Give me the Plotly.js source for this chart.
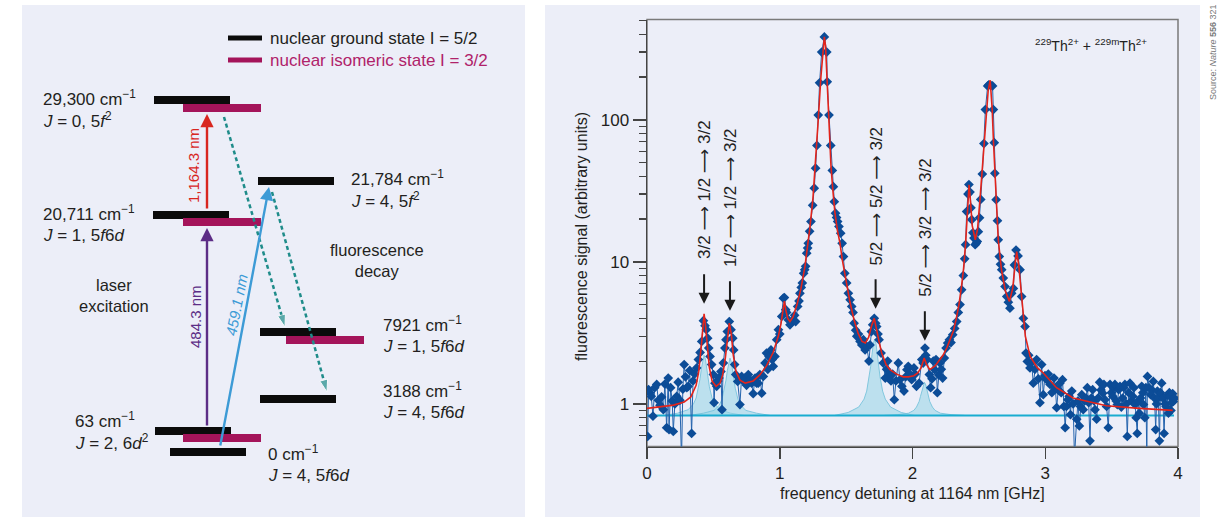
<!DOCTYPE html>
<html><head><meta charset="utf-8">
<script src="https://cdn.plot.ly/plotly-3.0.1.min.js"></script>
<style>html,body{margin:0;padding:0;background:#fff}#chart{width:1223px;height:517px}</style>
</head><body><div id="chart"></div>
<script>
// ---------------- right panel data ----------------
const freq = [0.005,0.012,0.022,0.032,0.045,0.058,0.073,0.085,0.098,0.11,0.123,0.135,0.148,0.16,0.166,0.178,0.19,0.198,0.21,0.224,0.235,0.248,0.26,0.27,0.28,0.29,0.30,0.31,0.322,0.336,0.347,0.358,0.374,0.387,0.40,0.412,0.425,0.437,0.447,0.457,0.465,0.475,0.487,0.50,0.505,0.512,0.525,0.535,0.542,0.557,0.565,0.575,0.587,0.595,0.605,0.62,0.633,0.646,0.653,0.66,0.668,0.683,0.70,0.713,0.725,0.738,0.75,0.763,0.775,0.788,0.80,0.814,0.826,0.838,0.85,0.864,0.876,0.889,0.90,0.91,0.919,0.934,0.943,0.951,0.964,0.977,0.99,1.0,1.015,1.027,
1.035,1.045,1.052,1.065,1.077,1.09,1.10,1.112,1.12,1.135,1.145,1.152,1.162,1.17,1.18,1.188,1.195,1.203,1.21,1.215,1.225,1.235,1.248,1.26,1.27,1.28,1.29,1.30,1.316,1.336,1.354,1.358,1.371,1.384,1.396,1.404,1.411,1.42,1.428,1.436,1.446,1.459,1.47,1.48,1.49,1.504,1.517,1.53,1.542,1.552,1.56,1.572,1.58,1.593,1.605,1.618,1.63,1.643,1.655,1.672,1.68,1.69,1.70,1.712,1.722,1.73,1.74,1.748,1.763,1.78,1.795,1.805,1.813,1.825,1.838,1.85,1.863,1.875,1.893,
1.905,1.92,1.936,1.948,1.958,1.968,1.98,1.994,2.011,2.02,2.03,2.05,2.07,2.08,2.094,2.10,2.11,2.127,2.137,2.147,2.157,2.167,2.177,2.187,2.197,2.207,2.217,2.227,2.24,2.253,2.265,2.278,2.29,2.303,2.318,2.333,2.345,2.358,2.37,2.383,2.393,
2.40,2.408,2.418,2.425,2.433,2.44,2.446,2.455,2.463,2.472,2.48,2.488,2.496,2.505,2.514,2.526,2.538,2.549,2.566,2.575,2.59,2.603,2.609,2.616,2.62,2.63,2.64,2.646,2.654,2.663,2.672,2.684,2.697,2.71,2.722,2.734,2.747,2.76,2.768,2.78,2.795,2.81,2.822,2.835,2.848,2.855,2.865,2.875,2.885,2.897,2.91,2.922,2.935,2.948,2.96,2.973,2.985,2.998,
3.01,3.023,3.036,3.05,3.066,3.076,3.086,3.098,3.11,3.12,3.13,3.14,3.15,3.16,3.17,3.18,3.19,3.2,3.21,3.22,3.237,3.247,3.257,3.265,3.275,3.286,3.297,3.307,3.317,3.327,3.337,3.347,3.357,3.367,3.375,3.387,3.398,3.41,3.42,3.433,3.442,3.45,3.462,3.475,3.488,3.498,3.508,3.516,3.525,3.535,3.543,3.553,3.563,3.573,3.583,3.592,3.6,3.61,3.618,3.628,3.638,3.648,3.659,3.668,3.676,3.685,3.693,3.70,3.709,3.718,3.727,3.735,3.74,3.75,3.758,3.765,3.77,3.782,3.794,3.804,3.814,3.823,3.832,3.838,3.845,3.852,3.86,3.868,3.877,3.886,3.895,3.903,3.91,3.918,3.928,3.935,3.94,3.947,3.953,3.96,3.965,3.972];
const signal = [0.59,1.26,1.2,1.13,0.82,1.30,1.37,1.06,0.98,1.12,0.91,1.38,0.68,1.52,0.66,1.3,1.05,0.64,1.0,1.13,1.42,1.06,0.40,1.27,1.89,1.55,1.3,1.33,1.72,0.62,1.45,1.62,1.79,2.05,2.3,2.75,3.85,3.55,3.33,2.9,2.47,2.16,1.89,1.61,1.02,1.40,1.33,1.45,1.52,1.69,0.91,1.94,2.47,2.83,3.23,3.8,3.33,2.9,2.4,1.89,1.61,1.44,0.99,1.56,1.45,1.52,1.35,1.61,1.48,1.40,1.18,1.52,1.40,1.40,1.61,1.19,1.56,1.94,2.28,1.75,2.16,2.4,2.05,1.84,2.16,2.83,3.33,3.1,4.13,5.55,
5.6,4.6,4.4,3.9,3.6,3.75,3.9,4.2,3.8,4.85,5.3,6.0,6.6,7.1,8.3,8.8,9.3,11.5,12.5,13.5,16.4,19.2,25,33,45.6,66,108,182,300,383,300,185,108,66,44,33.8,26.5,22,20.5,19.2,17.7,15.9,13.5,10.9,8.3,7.1,6.0,5.4,4.85,4.4,3.7,3.3,2.99,3.1,2.75,2.6,2.83,2.4,2.54,2.0,2.6,3.23,3.6,4.0,3.7,3.5,3.1,2.83,2.28,1.94,1.52,1.75,2.0,1.62,1.45,1.62,1.07,1.45,1.94,
1.48,1.33,1.23,1.55,1.74,1.84,1.62,1.48,1.79,1.62,1.33,1.40,2.05,1.94,2.47,2.2,2.05,1.61,1.30,1.5,2.0,1.74,2.05,1.20,1.6,1.94,1.75,1.52,2.1,2.47,2.68,2.83,2.7,3.07,3.4,3.8,4.4,5.0,6.35,8.0,10.5,
13.2,22.6,30,35,31,24,19.8,16,14.7,13.2,13.5,13.9,16.3,20.4,27.5,41.5,68,118,173,176,175,173,118,69,42,27.4,19.5,14.3,10.9,9.6,8.8,7.68,6.7,5.7,5.2,4.72,6.0,6.5,9.5,12.1,11.0,8.8,5.7,4.0,3.5,2.28,1.99,2.2,1.79,1.95,1.40,1.75,2.05,1.5,1.02,1.89,1.16,1.58,
1.48,1.62,1.37,1.2,1.52,1.3,0.94,1.25,1.40,1.2,1.48,0.96,0.68,0.96,1.07,1.13,0.84,1.23,1.0,0.42,0.78,1.05,0.70,0.96,1.16,0.91,1.05,1.10,1.30,1.02,0.55,1.1,1.26,1.05,0.91,0.78,1.1,1.42,1.25,1.19,1.37,1.07,0.96,0.68,1.37,1.2,1.13,1.3,1.37,1.05,0.99,1.26,1.33,0.95,1.10,1.3,1.37,1.0,0.59,1.2,1.40,1.05,1.13,1.3,0.99,0.8,0.62,1.05,0.86,1.1,1.33,1.2,0.99,0.80,1.3,0.42,1.56,1.3,1.16,1.25,1.44,1.1,0.66,1.0,1.23,1.1,0.55,1.2,1.40,1.1,0.62,1.0,0.96,1.15,0.86,1.2,1.13,0.9,1.02,1.18,1.04,1.1];

const fitFreq = [0,0.1,0.2,0.28,0.33,0.37,0.39,0.41,0.425,0.43,0.44,0.455,0.47,0.49,0.52,0.55,0.57,0.59,0.605,0.62,0.635,0.65,0.67,0.7,0.74,0.8,0.85,0.9,0.95,0.99,1.01,1.025,1.035,1.045,1.06,1.077,1.1,1.13,1.16,1.19,1.21,1.228,1.25,1.266,1.28,1.29,1.31,1.325,1.336,1.345,1.355,1.366,1.376,1.386,1.40,1.416,1.435,1.454,1.47,1.49,1.51,1.53,1.56,1.59,1.62,1.645,1.67,1.69,1.712,1.73,1.75,1.768,1.80,1.83,1.88,1.93,1.97,2.01,2.04,2.065,2.088,2.105,2.13,2.17,2.2,2.23,2.26,2.29,2.31,2.33,2.35,2.37,2.385,2.40,2.41,2.42,2.426,2.435,2.45,2.473,2.49,2.51,2.53,2.55,2.57,2.585,2.6,2.61,2.62,2.63,2.646,2.67,2.70,2.73,2.755,2.775,2.785,2.80,2.82,2.85,2.886,2.94,2.985,3.04,3.085,3.21,3.46,3.71,3.96];
const fitSignal = [0.93,0.95,0.98,1.03,1.12,1.35,1.7,2.6,4.0,4.3,3.6,2.4,1.8,1.45,1.33,1.4,1.6,2.1,2.9,3.7,3.1,2.2,1.7,1.47,1.40,1.45,1.6,1.85,2.3,3.0,3.7,4.6,5.3,4.6,4.0,3.8,4.1,5.0,6.5,9.3,12.5,17.7,28,44,68,100,200,320,383,330,200,110,70,47,32,22,16.5,13.5,10.5,8.3,6.5,5.15,3.9,3.15,2.75,2.68,2.95,3.5,4.0,3.4,2.7,2.28,1.9,1.74,1.62,1.55,1.55,1.58,1.65,1.8,2.1,1.9,1.74,1.85,2.0,2.2,2.5,2.9,3.3,4.0,5.0,6.8,9.0,13.5,20,30,34.8,28,18,14.3,17,28.8,50,95,160,190,120,70,42,27.4,14.3,8.8,6.2,5.27,6.5,10,11.8,9.5,5.7,3.0,2.16,1.8,1.65,1.45,1.3,1.1,0.97,0.93,0.90];

const baselineFreq = [0, 3.97];
const baselineSignal = [0.83, 0.83];

const compCenter = [0.43, 0.625, 1.715, 2.09];
const compOffset = [-0.3,-0.2,-0.12,-0.08,-0.06,-0.04,-0.03,-0.02,-0.01,0,0.01,0.02,0.03,0.04,0.06,0.08,0.12,0.2,0.3];
const compSignal = [
  [0.83,0.86,0.91,1.0,1.10,1.32,1.51,1.78,2.06,2.2,2.06,1.78,1.51,1.32,1.10,1.0,0.91,0.86,0.83],
  [0.83,0.86,0.90,0.98,1.08,1.29,1.47,1.71,1.97,2.1,1.97,1.71,1.47,1.29,1.08,0.98,0.90,0.86,0.83],
  [0.83,0.87,0.95,1.08,1.23,1.56,1.84,2.23,2.65,2.85,2.65,2.23,1.84,1.56,1.23,1.08,0.95,0.87,0.83],
  [0.83,0.84,0.86,0.90,0.95,1.04,1.13,1.24,1.36,1.42,1.36,1.24,1.13,1.04,0.95,0.90,0.86,0.84,0.83]
];

const ARROW = "<span style='font-family:DejaVu Sans'>⟶</span>";
const transitionLabels = ['3/2 '+ARROW+' 1/2 '+ARROW+' 3/2','1/2 '+ARROW+' 1/2 '+ARROW+' 3/2','5/2 '+ARROW+' 5/2 '+ARROW+' 3/2','5/2 '+ARROW+' 3/2 '+ARROW+' 3/2'];
const transitionFreq = [0.43, 0.625, 1.722, 2.093];
const xTickVals = [0,1,2,3,4];
const yTickVals = [1,10,100];
const yMinorVals = [0.6,0.7,0.8,0.9,2,3,4,5,6,7,8,9,20,30,40,50,60,70,80,90,200,300,400,500];

// ---------------- left panel (level scheme) ----------------
const levelEnergy = ['29,300','20,711','21,784','7921','3188','63','0'];
const levelConfig = ['<i>J</i> = 0, 5<i>f</i><sup>2</sup>','<i>J</i> = 1, 5<i>f</i>6<i>d</i>','<i>J</i> = 4, 5<i>f</i><sup>2</sup>','<i>J</i> = 1, 5<i>f</i>6<i>d</i>','<i>J</i> = 4, 5<i>f</i>6<i>d</i>','<i>J</i> = 2, 6<i>d</i><sup>2</sup>','<i>J</i> = 4, 5<i>f</i>6<i>d</i>'];
const hasIsomer = [true,true,false,true,false,true,false];
const laserLabels = ['1,164.3 nm','484.3 nm','459.1 nm'];

// schematic geometry (diagram units)
const gX0 = [154,153,258,260,260,155,170], gY = [100,215,181,332,399,431,452];
const iX0 = [183,183,null,286,null,183,null], iY = [108,222,null,340,null,438,null];
const labX = [41,41,349,381,381,73,266], labY = [98,213,178,324,390,420,453];

const C_BLACK='#0b0b0b', C_MAG='#a4145a', C_RED='#d8261f', C_PUR='#5c2d86', C_BLUE='#3d9bd6', C_TEAL='#1f8c8a', TXT='#231f20';
const FONT = 'Liberation Sans, Arial, sans-serif';

const traces = [];
let gx=[],gy=[],ix=[],iy=[];
for (let k=0;k<levelEnergy.length;k++){
  gx.push(gX0[k], gX0[k]+76, null); gy.push(gY[k], gY[k], null);
  if (hasIsomer[k]) { ix.push(iX0[k], iX0[k]+78, null); iy.push(iY[k], iY[k], null); }
}
traces.push({x:gx,y:gy,xaxis:'x2',yaxis:'y2',mode:'lines',line:{color:C_BLACK,width:8},hoverinfo:'skip'});
traces.push({x:ix,y:iy,xaxis:'x2',yaxis:'y2',mode:'lines',line:{color:C_MAG,width:8},hoverinfo:'skip'});
traces.push({x:[228,262],y:[38,38],xaxis:'x2',yaxis:'y2',mode:'lines',line:{color:C_BLACK,width:5},hoverinfo:'skip'});
traces.push({x:[228,262],y:[60,60],xaxis:'x2',yaxis:'y2',mode:'lines',line:{color:C_MAG,width:5},hoverinfo:'skip'});
const decays = [[224,117,285,327],[272,192,327,392]];
decays.forEach(d=>{
  traces.push({x:[d[0],d[2]],y:[d[1],d[3]],xaxis:'x2',yaxis:'y2',mode:'lines+markers',
    line:{color:C_TEAL,width:2.5,dash:'4px,3px'},
    marker:{symbol:'arrow',angleref:'previous',size:[0,13],color:C_TEAL},hoverinfo:'skip'});
});

compCenter.forEach((c,k)=>{
  traces.push({x:compOffset.map(o=>c+o), y:compSignal[k], mode:'lines', fill:'toself',
    fillcolor:'rgba(150,214,230,0.55)', line:{color:'rgba(120,195,220,0.9)',width:1}, hoverinfo:'skip'});
});
traces.push({x:baselineFreq,y:baselineSignal,mode:'lines',line:{color:'#19acd0',width:2},hoverinfo:'skip'});
traces.push({x:freq,y:signal,mode:'lines+markers',line:{color:'#2463ad',width:1},
  marker:{symbol:'diamond',size:7.5,color:'#0c4c97'},hoverinfo:'skip'});
traces.push({x:fitFreq,y:fitSignal,mode:'lines',line:{color:'#e3241b',width:1.6},hoverinfo:'skip'});

const ann = [];
for (let k=0;k<levelEnergy.length;k++){
  ann.push({xref:'x2',yref:'y2',x:labX[k],y:labY[k],xanchor:'left',yanchor:'middle',showarrow:false,
    text:levelEnergy[k]+' cm<sup>−1</sup>',font:{family:FONT,size:17,color:TXT}});
  ann.push({xref:'x2',yref:'y2',x:labX[k],y:labY[k]+22,xanchor:'left',yanchor:'middle',showarrow:false,
    text:levelConfig[k],font:{family:FONT,size:17,color:TXT}});
}
ann.push({xref:'x2',yref:'y2',x:268,y:38,xanchor:'left',yanchor:'middle',showarrow:false,text:'nuclear ground state I = 5/2',font:{family:FONT,size:17,color:TXT}});
ann.push({xref:'x2',yref:'y2',x:268,y:60,xanchor:'left',yanchor:'middle',showarrow:false,text:'nuclear isomeric state I = 3/2',font:{family:FONT,size:17,color:'#b0226a'}});
ann.push({xref:'x2',yref:'y2',x:114,y:295,xanchor:'center',yanchor:'middle',showarrow:false,text:'laser<br>excitation',font:{family:FONT,size:16.5,color:TXT}});
ann.push({xref:'x2',yref:'y2',x:377,y:260,xanchor:'center',yanchor:'middle',showarrow:false,text:'fluorescence<br>decay',font:{family:FONT,size:16.5,color:TXT}});
const lasers = [[207,210,207,114,C_RED],[207,427,207,228,C_PUR],[220,447,269,187,C_BLUE]];
lasers.forEach(l=>{
  ann.push({xref:'x2',yref:'y2',axref:'x2',ayref:'y2',x:l[2],y:l[3],ax:l[0],ay:l[1],text:'',showarrow:true,
    arrowhead:2,arrowsize:1.1,arrowwidth:2.4,arrowcolor:l[4],standoff:0,startstandoff:0});
});
ann.push({xref:'x2',yref:'y2',x:193,y:166,textangle:-90,showarrow:false,text:laserLabels[0],font:{family:FONT,size:15,color:C_RED}});
ann.push({xref:'x2',yref:'y2',x:195,y:317,textangle:-90,showarrow:false,text:laserLabels[1],font:{family:FONT,size:15,color:C_PUR}});
ann.push({xref:'x2',yref:'y2',x:236,y:305,textangle:-79,showarrow:false,text:'<i>'+laserLabels[2]+'</i>',font:{family:FONT,size:15,color:C_BLUE}});

const tipSignal = [5.07,4.52,4.68,2.78];
const labSignal = [32.1,28.6,29.1,17.6];
for (let k=0;k<4;k++){
  ann.push({xref:'x',yref:'y',x:transitionFreq[k],y:Math.log10(tipSignal[k]),ax:0,ay:-31,text:'',showarrow:true,
    arrowhead:2,arrowsize:1.1,arrowwidth:2,arrowcolor:'#1a1a1a',standoff:0});
  ann.push({xref:'x',yref:'y',x:transitionFreq[k],y:Math.log10(labSignal[k]),textangle:-90,showarrow:false,
    xanchor:'center',yanchor:'middle',text:transitionLabels[k],font:{family:FONT,size:17,color:'#222'}});
}
ann.push({xref:'x',yref:'y',x:3.345,y:Math.log10(335),showarrow:false,xanchor:'center',yanchor:'middle',
  text:'<sup>229</sup>Th<sup>2+</sup> + <sup>229m</sup>Th<sup>2+</sup>',font:{family:FONT,size:14,color:'#222'}});
ann.push({xref:'paper',yref:'paper',x:912/1223,y:1-493/517,showarrow:false,xanchor:'center',yanchor:'middle',
  text:'frequency detuning at 1164 nm [GHz]',font:{family:FONT,size:16,color:TXT}});
ann.push({xref:'paper',yref:'paper',x:581/1223,y:1-237/517,showarrow:false,textangle:-90,xanchor:'center',yanchor:'middle',
  text:'fluorescence signal (arbitrary units)',font:{family:FONT,size:16,color:TXT}});
ann.push({xref:'paper',yref:'paper',x:1213/1223,y:1-52/517,showarrow:false,textangle:-90,xanchor:'center',yanchor:'middle',
  text:'Source: <i>Nature</i> <b>556</b> 321',font:{family:FONT,size:9,color:'#777'}});

const layout = {
  width:1223,height:517,margin:{l:0,r:0,t:0,b:0},
  paper_bgcolor:'#ffffff',plot_bgcolor:'rgba(0,0,0,0)',showlegend:false,
  font:{family:FONT,color:TXT},
  xaxis:{domain:[647/1223,1178/1223],anchor:'y',range:[0,4],tickvals:xTickVals,ticks:'outside',ticklen:11,tickwidth:1.5,tickcolor:'#444',
    showline:true,linecolor:'#444',linewidth:1.5,showgrid:false,zeroline:false,tickfont:{size:17,color:TXT,family:FONT}},
  yaxis:{domain:[1-446.5/517,1-19.5/517],anchor:'x',type:'log',range:[-0.3,2.706],tickvals:yTickVals,ticktext:['1','10','100'],
    ticks:'outside',ticklen:13,tickwidth:1.5,tickcolor:'#444',showline:true,linecolor:'#444',linewidth:1.5,showgrid:false,zeroline:false,
    tickfont:{size:17,color:TXT,family:FONT},
    minor:{tickmode:'array',tickvals:yMinorVals,ticks:'outside',ticklen:7,tickwidth:1.2,tickcolor:'#444',showgrid:false}},
  xaxis2:{domain:[0,1],anchor:'y2',range:[0,1223],visible:false,fixedrange:true},
  yaxis2:{domain:[0,1],anchor:'x2',range:[517,0],visible:false,fixedrange:true},
  shapes:[
    {type:'rect',xref:'paper',yref:'paper',x0:22/1223,x1:525/1223,y0:0,y1:1-5/517,fillcolor:'#eceef8',line:{width:0},layer:'below'},
    {type:'rect',xref:'paper',yref:'paper',x0:545/1223,x1:1200/1223,y0:0,y1:1-5/517,fillcolor:'#eceef8',line:{width:0},layer:'below'},
    {type:'rect',xref:'x domain',yref:'y domain',x0:0,x1:1,y0:0,y1:1,line:{color:'#7a7a7a',width:1.5},layer:'below'}
  ],
  annotations:ann
};
Plotly.newPlot('chart',traces,layout,{staticPlot:true,displayModeBar:false});
</script></body></html>
